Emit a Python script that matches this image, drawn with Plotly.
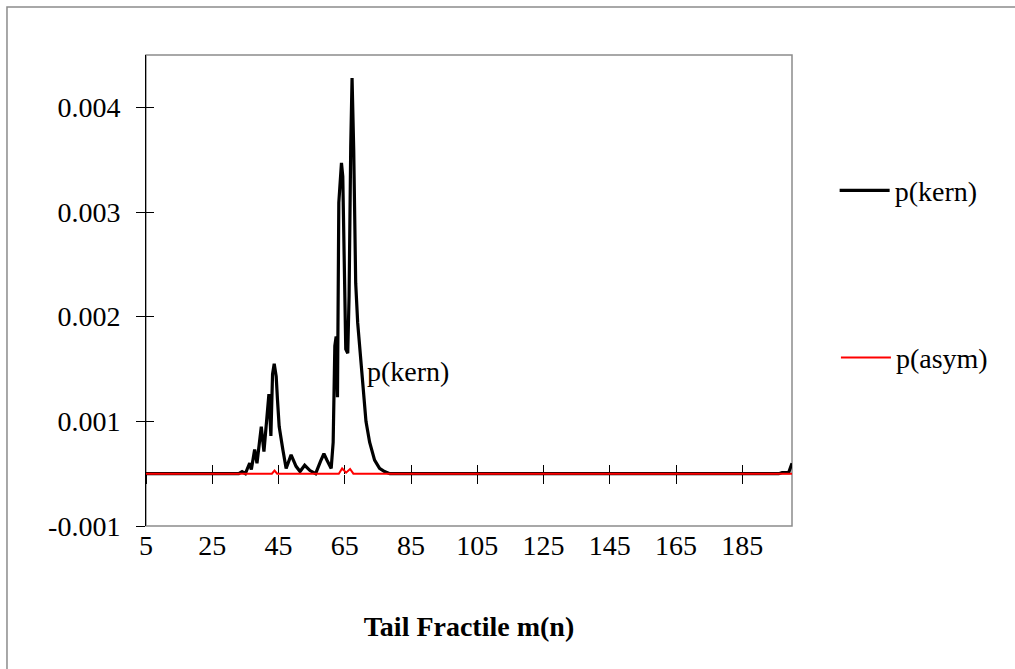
import plotly.graph_objects as go

# ---- data ----
kern_m = [5, 33, 34, 35, 35.5, 36.3, 36.8, 37.8, 38.5, 39.8, 40.6, 41.6, 42.1, 42.7,
          43.2, 43.7, 44.3, 44.7, 45.2, 46.3, 47.3, 48.8, 50.3, 51.5, 52.9, 54.5, 56.2,
          57.7, 58.7, 59.6, 60.9, 61.5, 62.0, 62.4, 62.8, 63.2, 63.7, 64.0, 64.4, 64.8,
          65.3, 65.9, 66.3, 66.8, 67.2, 67.7, 68.3, 68.9, 69.7, 70.4, 71.4, 72.5, 74.0,
          75.5, 77.0, 78.6, 196, 197, 199, 200]
kern_p = [0, 0, 0.00002, 0, 0.00004, 0.00010, 0.00004, 0.00023, 0.00010, 0.00045, 0.00021,
          0.00058, 0.00076, 0.00036, 0.00095, 0.00105, 0.00093, 0.00070, 0.00045, 0.00023,
          0.00005, 0.00018, 0.00007, 0.00002, 0.00008, 0.00003, 0.0, 0.00012, 0.00019,
          0.00013, 0.00005, 0.00030, 0.00122, 0.00131, 0.00073, 0.00259, 0.00290, 0.00297,
          0.00284, 0.00224, 0.00119, 0.00115, 0.00170, 0.00313, 0.00378, 0.00310, 0.00182,
          0.00144, 0.00115, 0.00087, 0.00050, 0.00030, 0.00013, 0.00005, 0.00002, 0.0,
          0.0, 0.00001, 0.00001, 0.00010]

asym_m = [5, 43, 43.8, 44.6, 63.2, 64.2, 65.4, 66.6, 67.6, 200]
asym_p = [0, 0, 0.00003, 0, 0, 0.00005, 0.00001, 0.000045, 0, 0]

x_tickvals = [5, 25, 45, 65, 85, 105, 125, 145, 165, 185]
x_ticktext = [str(v) for v in x_tickvals]
y_tickvals = [-0.0005, 0.0005, 0.0015, 0.0025, 0.0035]
y_ticktext = ["-0.001", "0.001", "0.002", "0.003", "0.004"]

X_RANGE = [5, 200]
Y_RANGE = [-0.0005, 0.004]

FONT = "Liberation Serif, Times New Roman, serif"
FS = 28

fig = go.Figure()
fig.add_trace(go.Scatter(x=kern_m, y=kern_p, mode="lines", name="p(kern)",
                         line=dict(color="black", width=3.2), legend="legend"))
fig.add_trace(go.Scatter(x=asym_m, y=asym_p, mode="lines", name="p(asym)",
                         line=dict(color="#ff0000", width=2), legend="legend2"))
# empty helper traces so the overlay axes (crossing tick marks) are drawn
for xa, ya in [("x2", "y"), ("x3", "y"), ("x", "y2")]:
    fig.add_trace(go.Scatter(x=[None], y=[None], xaxis=xa, yaxis=ya,
                             showlegend=False, hoverinfo="skip"))

# data label
fig.add_annotation(x=71, y=0.00098, text="p(kern)", showarrow=False,
                   xanchor="left", yanchor="middle",
                   font=dict(family=FONT, size=FS, color="black"))

x_pos0 = (0 - Y_RANGE[0]) / (Y_RANGE[1] - Y_RANGE[0])

fig.update_layout(
    width=1015, height=669,
    margin=dict(l=146, r=223, t=55, b=143),
    paper_bgcolor="white", plot_bgcolor="white",
    font=dict(family=FONT, size=FS, color="black"),
    xaxis=dict(range=X_RANGE, tickvals=x_tickvals, ticktext=x_ticktext,
               ticks="", showline=False, showgrid=False, zeroline=False,
               tickfont=dict(family=FONT, size=FS),
               title=dict(text="<b>Tail Fractile m(n)</b>", font=dict(family=FONT, size=FS),
                          standoff=56)),
    xaxis2=dict(range=X_RANGE, overlaying="x", anchor="free", position=x_pos0,
                tickvals=x_tickvals, showticklabels=False, ticks="outside", ticklen=9,
                tickcolor="black", showline=False, layer="below traces",
                showgrid=False, zeroline=False),
    xaxis3=dict(range=X_RANGE, overlaying="x", anchor="free", position=x_pos0,
                tickvals=x_tickvals, showticklabels=False, ticks="inside", ticklen=9,
                tickcolor="black", showline=False, layer="below traces",
                showgrid=False, zeroline=False),
    yaxis=dict(range=Y_RANGE, tickvals=y_tickvals, ticktext=y_ticktext,
               ticks="outside", ticklen=9, tickcolor="black",
               showline=True, linecolor="black", linewidth=1,
               showgrid=False, zeroline=False, ticklabelstandoff=10,
               tickfont=dict(family=FONT, size=FS)),
    yaxis2=dict(range=Y_RANGE, overlaying="y", anchor="x", side="left",
                tickvals=y_tickvals, showticklabels=False, ticks="inside", ticklen=8,
                tickcolor="black", showline=False, showgrid=False, zeroline=False),
    legend=dict(x=1.066, y=0.712, xanchor="left", yanchor="middle",
                bgcolor="rgba(0,0,0,0)", itemwidth=50,
                font=dict(family=FONT, size=FS)),
    legend2=dict(x=1.068, y=0.357, xanchor="left", yanchor="middle",
                 bgcolor="rgba(0,0,0,0)", itemwidth=50,
                 font=dict(family=FONT, size=FS)),
    shapes=[
        # plot-area frame
        dict(type="rect", xref="paper", yref="paper", x0=0, y0=0, x1=1, y1=1,
             line=dict(color="#8c8c8c", width=1.5), layer="below"),
        # chart-area frame
        dict(type="rect", xref="paper", yref="paper", x0=-0.2152, y0=1.1019,
             x1=1.36, y1=-0.32, line=dict(color="#8c8c8c", width=1.5), layer="below"),
    ],
)

fig.write_html("out.html")
